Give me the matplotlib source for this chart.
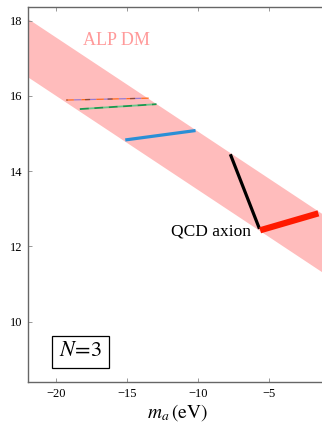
import matplotlib
matplotlib.use("Agg")
import matplotlib.pyplot as plt

plt.rcParams['font.family'] = ['Liberation Serif', 'DejaVu Serif']
plt.rcParams['mathtext.fontset'] = 'stix'

# ALP dark matter band (log10 f vs log10 m_a)
band_x = [-22, -1]
band_upper = [18.05, 12.8]
band_lower = [16.5, 11.25]

# model lines: (x0, x1), (y0, y1)
thin_x, thin_y = [-19.3, -13.5], [15.89, 15.94]
green_x, green_y = [-18.35, -12.95], [15.65, 15.78]
blue_x, blue_y = [-15.15, -10.2], [14.83, 15.08]
black_x, black_y = [-7.75, -5.7], [14.45, 12.47]
red_x, red_y = [-5.65, -1.55], [12.43, 12.88]

xticks = [-20, -15, -10, -5]
yticks = [10, 12, 14, 16, 18]

fig = plt.figure(figsize=(3.22, 4.28), dpi=100)
ax = fig.add_axes([0.087, 0.1075, 0.926, 0.876])

ax.fill_between(band_x, band_lower, band_upper, color='#ffbcbc', lw=0, zorder=1)

# thin multicoloured line
ax.plot(thin_x, thin_y, color='#ff6a1a', lw=0.9, ls=(0, (6, 6)), gapcolor='#9a7ad0', zorder=3)
ax.plot(thin_x, thin_y, color='#8b4a3a', lw=0.9, ls=(3, (4, 14)), zorder=4)
ax.plot(green_x, green_y, color='#179a4e', lw=1.3, ls=(0, (5, 3)), gapcolor='#66c98c', zorder=3)
ax.plot(blue_x, blue_y, color='#2b8fd6', lw=2.3, solid_capstyle='butt', zorder=3)
ax.plot(black_x, black_y, color='black', lw=2.3, solid_capstyle='butt', zorder=3)
ax.plot(red_x, red_y, color='#ff1a00', lw=4.5, solid_capstyle='butt', zorder=3)

ax.text(-15.75, 17.47, 'ALP DM', color='#ff9a9a', fontsize=13, ha='center', va='center')
ax.text(-6.3, 12.4, 'QCD axion', color='black', fontsize=12.5, ha='right', va='center')
ax.text(-18.3, 9.2, r'$N\!=\!3$', fontsize=16, ha='center', va='center',
        bbox=dict(boxstyle='square,pad=0.3', fc='white', ec='black', lw=0.9))

ax.set_xlim(-22, -1)
ax.set_ylim(8.4, 18.36)
ax.set_xticks(xticks)
ax.set_xticklabels([f'\u2212{abs(t)}' for t in xticks])
ax.set_yticks(yticks)
ax.tick_params(direction='in', length=3, width=0.6, color='#888888', labelsize=9,
               top=True, right=False, pad=4)
for s in ax.spines.values():
    s.set_color('#666666')
    s.set_linewidth(1.0)
ax.spines['right'].set_visible(False)
ax.set_xlabel(r'$m_a\,(\mathrm{eV})$', fontsize=14, labelpad=2)

fig.savefig('out.png', dpi=100)
